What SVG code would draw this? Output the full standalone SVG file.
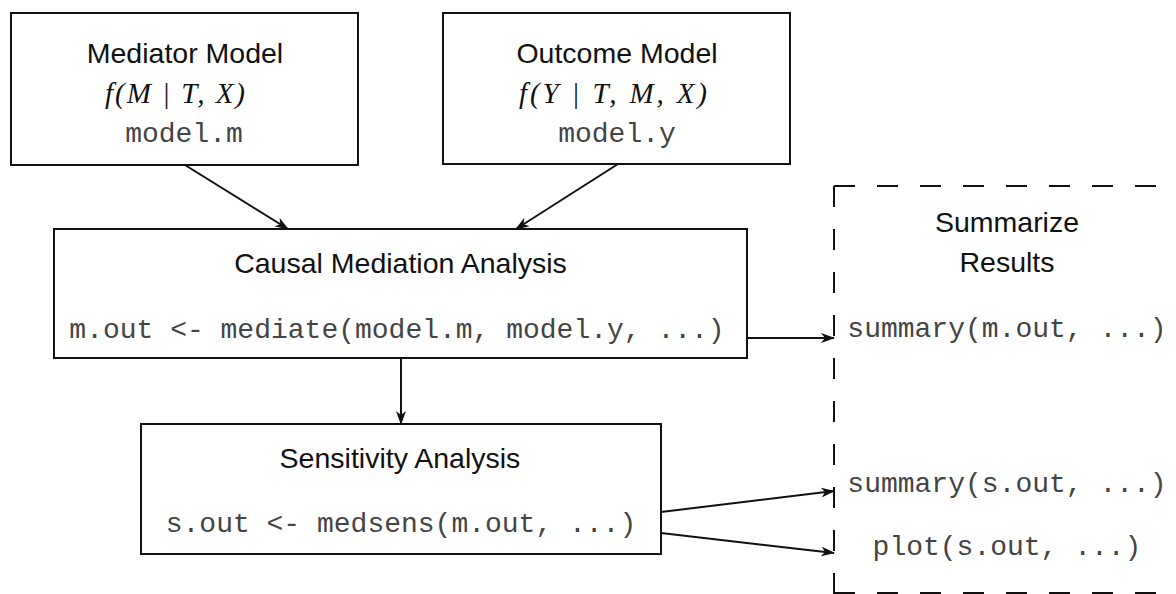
<svg xmlns="http://www.w3.org/2000/svg" width="1176" height="594" viewBox="0 0 1176 594">
  <style>
    .box { fill: #fff; stroke: #111; stroke-width: 2; }
    .title { font-family: "Liberation Sans", Arial, sans-serif; font-size: 28.5px; fill: #111; text-anchor: middle; }
    .math { font-family: "Liberation Serif", "Times New Roman", serif; font-style: italic; font-size: 29px; fill: #111; text-anchor: middle; }
    .code { font-family: "Liberation Mono", "Courier New", monospace; font-size: 28px; fill: #444; text-anchor: middle; }
    .conn { stroke: #111; stroke-width: 2; fill: none; marker-end: url(#arrow); }
    .dash { stroke: #111; stroke-width: 2; fill: none; stroke-dasharray: 21 22; }
  </style>
  <defs>
    <marker id="arrow" viewBox="0 0 14 10" refX="13" refY="5" markerWidth="14" markerHeight="10" markerUnits="userSpaceOnUse" orient="auto">
      <path d="M0,0 L14,5 L0,10 L4,5 Z" fill="#111"/>
    </marker>
  </defs>
  <rect width="1176" height="594" fill="#fff"/>

  <g id="mediator-model">
    <rect class="box" x="11" y="13" width="347" height="152"/>
    <text class="title" x="185" y="63">Mediator Model</text>
    <text class="math" x="175" y="103" textLength="140" lengthAdjust="spacing">f(M | T, X)</text>
    <text class="code" x="184" y="142">model.m</text>
  </g>

  <g id="outcome-model">
    <rect class="box" x="443" y="13" width="347" height="151"/>
    <text class="title" x="617" y="63">Outcome Model</text>
    <text class="math" x="613" y="103" textLength="188" lengthAdjust="spacing">f(Y  | T, M, X)</text>
    <text class="code" x="617" y="142">model.y</text>
  </g>

  <g id="causal-mediation">
    <rect class="box" x="54" y="229" width="693" height="129"/>
    <text class="title" x="400.5" y="273">Causal Mediation Analysis</text>
    <text class="code" x="397" y="338">m.out &lt;- mediate(model.m, model.y, ...)</text>
  </g>

  <g id="sensitivity-analysis">
    <rect class="box" x="141" y="424" width="520" height="130"/>
    <text class="title" x="400" y="468">Sensitivity Analysis</text>
    <text class="code" x="401" y="532">s.out &lt;- medsens(m.out, ...)</text>
  </g>

  <g id="summarize-results">
    <line class="dash" x1="834" y1="186" x2="834" y2="594"/>
    <line class="dash" x1="834" y1="186" x2="1176" y2="186"/>
    <line class="dash" x1="834" y1="593" x2="1176" y2="593"/>
    <text class="title" x="1007" y="232">Summarize</text>
    <text class="title" x="1007" y="272">Results</text>
    <text class="code" x="1007" y="337">summary(m.out, ...)</text>
    <text class="code" x="1007" y="492">summary(s.out, ...)</text>
    <text class="code" x="1007" y="555">plot(s.out, ...)</text>
  </g>

  <g id="connectors">
    <line class="conn" x1="185" y1="165" x2="288" y2="229"/>
    <line class="conn" x1="618" y1="164" x2="516" y2="229"/>
    <line class="conn" x1="401" y1="358" x2="401" y2="424"/>
    <line class="conn" x1="747" y1="338" x2="834" y2="338"/>
    <line class="conn" x1="661" y1="512" x2="834" y2="491"/>
    <line class="conn" x1="661" y1="533" x2="834" y2="553"/>
  </g>
</svg>
